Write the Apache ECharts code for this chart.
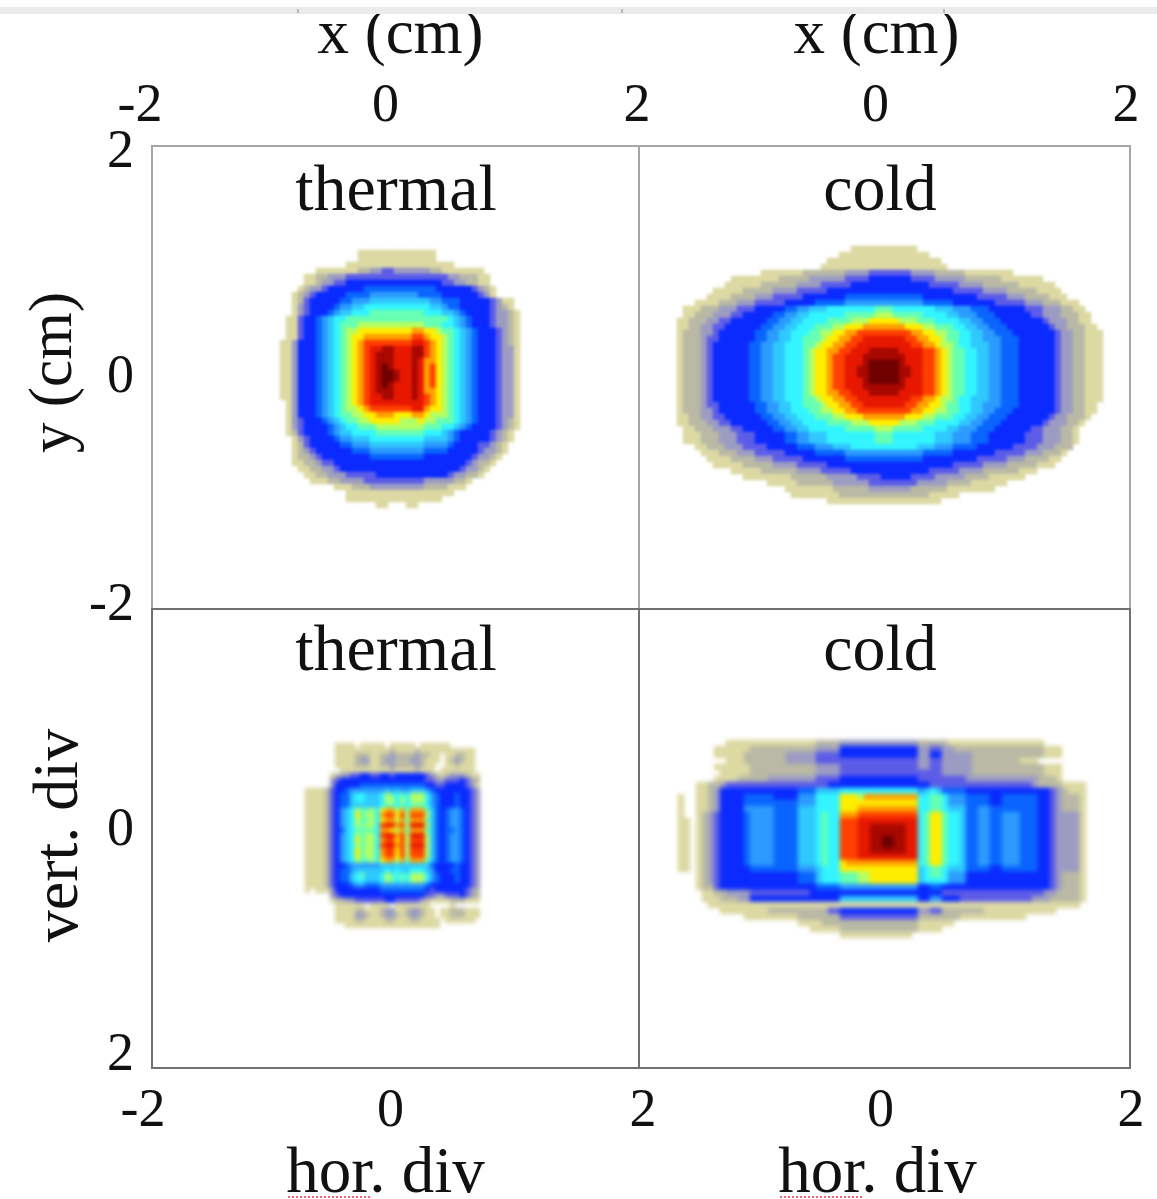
<!DOCTYPE html>
<html><head><meta charset="utf-8">
<style>html,body{margin:0;padding:0;background:#fff}#c{width:1157px;height:1199px}
canvas[data-zr-dom-id="zr_0"]{filter:blur(.5px)}
canvas[data-zr-dom-id="zr_1"]{filter:blur(1.4px)}
canvas[data-zr-dom-id="zr_2"]{filter:blur(2.2px)}
</style>
<script src="https://cdn.jsdelivr.net/npm/echarts@6/dist/echarts.min.js"></script>
</head><body><div id="c"></div>
<script>
// Colour levels: 1 = faintest ... h = peak
const levelColors = ['#dcd9a3','#b9b9a5','#9c9cc3','#5c5ce8','#0a2aff','#0a64ff','#2c9bff','#2fc8ff','#33f5ff','#66ffb3','#b3ff66','#ffee00','#ffa000','#ff4000','#e81800','#a80800','#6e0000'];
const tickValues = [-2, 0, 2];
const panelTitles = ['thermal', 'cold', 'thermal', 'cold'];

// top-left, runs of level + count
const thermalTop = [
".13 113 .14",
".13 113 .14",
".11 118 .11",
".6 17 22 32 42 36 22 17 .6",
".4 12 22 33 417 32 23 12 .5",
".4 12 21 32 42 516 42 32 22 12 .5",
".3 11 21 32 41 56 612 56 41 31 21 11 .4",
".2 11 21 31 41 55 64 78 64 56 41 31 11 .4",
".2 11 21 41 55 62 73 810 72 63 55 41 31 12 .1",
".2 11 31 41 54 61 72 82 911 82 71 62 55 41 31 21 11 .1",
".2 11 31 41 53 61 71 82 93 a9 93 82 71 61 54 41 32 21 11",
".1 12 41 52 61 71 81 92 a17 91 81 71 61 53 41 32 21 11",
".1 12 41 52 61 71 81 91 a3 b11 a3 92 81 71 61 53 41 32 21 11",
".1 12 41 52 61 71 81 91 a1 b2 c9 d2 c2 b1 a2 91 81 71 61 53 41 31 21 11",
".1 12 41 52 61 71 81 91 a1 b1 c2 d8 e2 d1 c2 b1 a1 91 81 71 61 53 41 31 21 11",
"12 31 53 61 71 81 91 a1 b1 c1 d1 e8 f2 e1 d1 c1 b1 a1 91 81 71 61 53 41 31 21 11",
"12 31 53 61 71 81 91 a1 b1 c1 d1 e1 f2 g2 f3 g2 e1 d1 c1 b1 a1 91 81 71 61 53 41 32 11",
"12 31 53 61 71 81 91 a1 b1 c1 d1 e1 f1 g3 f3 g2 e1 d1 c1 b1 a1 91 81 71 61 53 41 32 11",
"12 31 53 61 71 81 91 a1 b1 c1 d1 e1 f1 g3 f3 g1 f1 d1 d1 c1 b1 a1 91 81 71 61 53 41 32 11",
"12 31 53 61 71 81 91 a1 b1 c1 d1 e1 f1 g1 h1 g1 f3 g1 f1 d1 e1 c1 b1 a1 91 81 71 61 53 41 32 11",
"12 31 53 61 71 81 91 a1 b1 c1 d1 e1 f1 g1 h2 g1 f2 g1 f1 d1 e1 c1 b1 a1 91 81 71 61 53 41 32 11",
"12 31 53 61 71 81 91 a1 b1 c1 d1 e1 f1 g1 h2 g1 f2 g1 f1 d1 e1 c1 b1 a1 91 81 71 61 53 41 32 11",
"12 31 53 61 71 81 91 a1 b1 c1 d1 e1 f1 g1 h1 g1 f3 g1 f1 d1 e1 c1 b1 a1 91 81 71 61 53 41 32 11",
"12 31 53 61 71 81 91 a1 b1 c1 d1 e1 f1 g3 f3 g1 f1 d1 d1 c1 b1 a1 91 81 71 61 53 41 32 11",
"12 31 53 61 71 81 91 a1 b1 c1 d1 e1 f2 g2 f3 g1 f1 e1 d1 c1 b1 a1 91 81 71 61 53 41 32 11",
".1 11 31 53 61 71 81 91 a1 b1 c1 d1 e1 f9 e1 d1 c1 b1 a1 91 81 71 61 53 41 32 11",
".1 11 31 53 61 71 81 91 a1 b2 c1 d1 e7 f2 d1 c2 b1 a1 91 81 71 61 53 41 32 11",
".1 11 31 53 61 71 81 91 a2 b2 c2 d3 c3 d2 c1 b3 a1 91 81 71 61 53 41 32 11",
".1 11 31 41 53 61 71 81 91 a2 b2 c5 b3 c1 b2 a3 91 81 71 61 53 41 31 21 11",
".1 11 31 41 54 61 71 81 92 a3 b8 a3 92 81 71 61 54 41 31 21 11",
".1 11 21 41 54 61 71 82 94 a8 93 81 71 61 55 41 31 21 11 .1",
".2 11 31 41 54 61 72 83 99 84 71 61 55 41 31 21 11 .1",
".2 11 21 41 55 62 73 89 74 61 54 42 31 21 11 .2",
".2 11 21 31 41 54 52 63 79 64 55 41 32 21 11 .2",
".2 11 22 31 41 53 55 69 54 54 41 32 21 11 .3",
".2 12 22 31 42 519 53 41 31 22 11 .4",
".3 12 22 32 41 518 52 41 32 21 11 .5",
".4 12 22 33 45 512 41 32 22 11 .6",
".5 13 22 34 410 34 31 22 11 .8",
".9 13 23 39 24 13 .9",
".11 118 .11",
".11 116 .13",
".16 12 .3 12 .17"
];

// top-right, runs of level + count
const coldTop = [
".29 111 .31",
".27 115 .29",
".25 119 .27",
".24 121 .26",
".14 17 27 34 47 34 25 18 .15",
".9 18 25 36 44 57 44 35 26 17 .10",
".8 16 26 34 45 513 45 34 26 16 .8",
".6 15 25 34 45 521 45 34 25 14 .7",
".5 14 24 33 45 57 613 59 45 33 24 13 .6",
".3 14 23 33 45 55 65 713 65 57 45 33 23 13 .4",
".1 13 23 33 43 55 62 72 83 98 a3 97 83 73 63 56 43 33 22 12 .3",
".1 12 23 33 42 55 62 72 82 96 a5 b3 a5 94 82 73 63 56 42 33 23 12 .2",
"12 23 32 42 56 62 72 82 94 a4 b3 c5 b3 a3 94 82 72 63 57 41 33 22 12 .2",
"12 22 32 42 56 62 72 82 93 a3 b2 c3 d7 c3 b2 a3 92 82 72 63 57 41 32 23 12 .1",
"11 23 32 41 56 62 72 82 93 a2 b2 c2 d2 e9 d2 c2 b2 a2 92 82 72 63 57 41 32 22 13",
"11 23 31 42 56 62 72 82 92 a3 b1 c2 d2 e2 f7 e2 d2 c2 b1 a2 92 82 73 63 56 41 32 22 13",
"11 23 31 41 56 62 72 82 93 a2 b1 c2 d2 e2 f9 e2 d2 c1 b2 a1 92 83 72 63 56 41 32 22 13",
"11 23 31 41 56 62 72 82 93 a1 b1 c2 d2 e2 f3 g5 f4 e2 d1 c1 b1 a2 92 82 72 63 56 41 32 22 13",
"11 23 31 41 56 62 72 82 93 a1 b1 c2 d1 e2 f3 g7 f3 e2 d1 c1 b1 a2 92 82 72 63 56 41 32 22 13",
"11 23 31 41 56 62 72 82 93 a1 b1 c2 d1 e2 f3 g1 h5 g1 f3 e2 d1 c1 b1 a2 92 82 72 63 56 41 32 22 13",
"11 23 31 41 56 62 72 82 93 a1 b1 c2 d1 e2 f2 g2 h5 g2 f2 e2 d1 c1 b1 a2 92 82 72 63 56 41 32 22 13",
"11 23 31 41 56 62 72 82 93 a1 b1 c2 d1 e2 f2 g2 h5 g2 f2 e2 d1 c1 b1 a2 92 82 72 63 56 41 32 22 13",
"11 23 31 41 56 62 72 82 93 a1 b1 c2 d1 e2 f3 g1 h5 g1 f3 e2 d1 c1 b1 a2 92 82 72 63 56 41 32 22 13",
"11 23 31 41 56 62 72 82 93 a1 b1 c2 d1 e2 f3 g7 f3 e2 d1 c1 b1 a2 92 82 72 63 56 41 32 22 13",
"11 23 31 41 56 62 72 82 93 a1 b1 c2 d2 e2 f3 g5 f4 e2 d1 c1 b1 a2 92 82 72 63 56 41 32 22 13",
"11 23 31 41 56 62 72 82 93 a2 b1 c2 d2 e2 f9 e2 d2 c1 b2 a1 92 83 72 63 56 41 32 22 13",
"11 23 31 42 56 62 72 82 92 a3 b1 c2 d2 e2 f7 e2 d2 c2 b1 a2 92 82 73 63 56 41 32 22 12 .1",
"11 23 32 41 56 62 72 82 93 a2 b2 c2 d2 e9 d2 c2 b2 a2 92 82 72 63 57 41 32 22 12 .1",
"12 22 32 42 56 62 72 82 93 a3 b2 c3 d7 c3 b2 a3 92 82 72 63 57 41 32 23 11 .2",
"12 23 32 42 56 62 72 82 94 a4 b3 c5 b3 a3 94 82 72 63 57 41 33 22 11 .3",
".1 12 23 33 42 55 62 72 82 96 a5 b3 a5 94 82 73 63 56 42 33 22 11 .4",
".1 13 23 33 43 55 62 72 83 98 a3 97 83 73 63 56 43 33 22 11 .4",
".1 13 23 33 43 55 62 72 83 98 a3 97 83 73 63 56 43 33 22 11 .4",
".3 12 23 33 44 55 63 73 83 911 83 73 64 56 44 33 23 .5",
".4 13 23 33 45 55 65 713 65 57 45 33 23 11 .6",
".5 14 24 33 45 57 613 59 45 33 24 12 .7",
".6 15 25 34 45 521 45 34 25 13 .8",
".9 15 26 34 45 513 45 34 26 13 .11",
".11 18 26 35 44 55 44 35 24 16 .13",
".15 15 26 36 48 35 24 16 .16",
".18 18 26 37 26 18 .18",
".19 18 215 15 .24",
".25 119 .27"
];

// bottom-left, one character per cell, | only groups columns
const thermalBottom = [
"......1111|.1111|1.111|11.11|1111......",
"......1111|11111|11211|11211|111111111.",
"......1111|22211|22322|22322|11.112211.",
"......1111|23311|23322|23321|11.123211.",
"......1111|22211|22322|22321|1..112111.",
".......111|11111|11211|11211|1.1111111.",
".....12334|45544|55455|55554|3212333211",
".....34555|55555|55555|55554|4334445432",
".....35555|56666|66666|66665|5445555431",
"1111245567|77777|78787|78887|6555555543",
"1111245668|99888|9ba9a|9bbb9|7655565543",
"1111245668|99888|9bb9b|9bbb9|7655565543",
"1111245668|88888|9aa9a|9aaa9|7655565543",
"1111245789|baab9|cddbd|addda|8656776543",
"1111245789|cabb9|deece|beeeb|8656776543",
"1111245789|baab9|cddbd|addda|8656776543",
"1111245789|babb9|effde|bfffb|8656776543",
"1111245689|aaaa9|ddcbd|addda|8656676543",
"1111245789|babb9|effde|bfffb|8656776543",
"1111245789|cabb9|deece|beeeb|8656776543",
"1111245789|babb9|effde|bfffb|8656776543",
"1111245789|cabb9|deece|beeeb|8656776543",
"1111245789|cabb9|deece|beeeb|8656776543",
"1111245789|baab9|cddbd|addda|8656776543",
"1111245567|77777|88888|88888|6555565543",
"1111245667|88888|89898|89998|7555665543",
"1111245668|9a888|9ba9a|9bbb9|7655565543",
"1111245668|99888|9ba9a|9bbb9|7655565543",
"1111245556|77666|77777|77776|5555555543",
"1.11135555|55555|66666|66665|4555555432",
".....34555|55555|55555|55554|4334445432",
".....12233|44444|45544|44432|1111222111",
"......1111|11.11|11.11|11111|....1.....",
"......1111|22111|23311|23321|1.11222111",
"......1111|33211|23321|23321|1.11222111",
"......1111|22111|12211|12211|11.111111.",
"........11|11111|11111|11111|11........"
];

// bottom-right, runs of level + count
const coldBottom = [
".8 115 24 313 25 116 .7",
".6 16 211 34 513 32 42 32 215 13 .4",
".6 15 27 35 44 513 32 52 32 33 212 13 .4",
".8 13 27 35 44 413 32 42 35 28 13 .8",
".6 16 211 34 413 32 42 35 212 13 .4",
".7 15 211 34 417 35 212 13 .4",
".6 14 25 38 44 513 48 312 23 11 .4",
".3 12 22 31 417 517 417 31 24 14",
".3 12 21 31 54 55 54 63 84 913 71 81 91 81 64 514 41 31 21 13",
"11 .2 12 21 31 54 65 54 73 94 c3 b1 d9 92 a2 91 73 62 62 52 66 52 41 31 23 11",
"11 .2 12 21 31 54 65 64 73 94 c13 92 a2 91 73 62 62 52 66 52 41 31 23 11",
"11 .2 12 21 31 54 75 64 83 94 c3 d10 92 a2 91 83 62 72 62 66 52 41 31 23 11",
"11 .2 11 21 31 41 54 61 74 64 83 91 a1 92 d3 e10 91 a1 c2 a1 92 81 62 72 62 73 63 52 41 31 33 11",
"12 .1 11 21 31 41 54 61 74 64 83 91 a1 92 e3 f10 91 a1 c2 a1 92 81 62 72 62 73 63 52 41 31 33 11",
"12 .1 11 21 31 41 54 61 74 64 83 91 a1 92 e3 f2 g6 f2 91 a1 c2 a1 92 81 62 72 62 73 63 52 41 31 33 11",
"12 .1 11 21 31 41 54 61 74 64 83 91 a1 92 e3 f2 g6 f2 91 a1 c2 a1 92 81 62 72 62 73 63 52 41 31 33 11",
"12 .1 11 21 31 41 54 61 74 64 83 91 a1 92 e3 f2 g2 h2 g2 f2 91 a1 c2 a1 92 81 62 72 62 73 63 52 41 31 33 11",
"12 .1 11 21 31 41 54 61 74 64 83 91 a1 92 e3 f2 g2 h2 g2 f2 91 a1 c2 a1 92 81 62 72 62 73 63 52 41 31 33 11",
"12 .1 11 21 31 41 54 61 74 64 83 91 a1 92 e3 f2 g6 f2 91 a1 c2 a1 92 81 62 72 62 73 63 52 41 31 33 11",
"12 .1 11 21 31 41 54 61 74 64 83 91 a1 92 e3 f10 91 a1 c2 a1 92 81 62 72 62 73 63 52 41 31 33 11",
"12 .1 11 21 31 41 54 61 74 64 83 91 a1 92 c1 d12 91 a1 c2 a1 92 81 62 72 62 73 63 52 41 31 33 11",
"12 .1 11 21 31 41 55 64 64 73 81 91 92 c13 81 91 a2 91 83 62 62 52 66 52 41 31 33 11",
".3 11 21 31 41 55 54 54 63 81 91 92 a3 b2 c8 81 91 a2 91 73 56 56 52 41 31 23 11",
".3 11 21 31 41 513 63 81 91 92 a3 b2 c8 81 91 92 91 73 514 41 31 23 11",
".3 11 22 41 516 64 713 52 62 518 41 31 23 11",
".4 12 22 34 410 522 417 32 24 11",
".4 13 23 32 515 813 52 72 53 412 33 25 11",
".5 162 .1",
".7 18 210 42 513 32 42 27 112 .5",
".11 19 27 413 27 111 .10",
".20 14 216 16 .22",
".22 15 213 14 .24",
".27 112 .29"
];

const panelRows = [thermalTop, coldTop, thermalBottom, coldBottom];

// layout, in page pixels
const frames = [[152,146,487,463],[639,146,491,463],[152,609,487,459],[639,609,491,459]];
const heatOrigins = [[280,250,6],[677,246,6],[305,743,5],[678,740,6]];
const heatLayers = [1,1,2,2];
const frameColors = ['#a6a6a6','#a6a6a6','#707070','#707070'];
const titleCenters = [[391,155],[875,155],[391,615],[875,615]];
const xShifts = [[-12,-10,-2],[0,-9,-4],[-9,-5,4],[0,-4,1]];
const yShifts = [[-3.5,0,6.5],null,[0,-8,-12.5],null];
const tickSize = 54, xNameSize = 63, botNameSize = 65, titleSize = 66;
const serif = '"Liberation Serif", "Times New Roman", serif';

function expandRow(s){
  if (s.indexOf(' ') < 0) return s.replace(/\|/g,'').split('');
  const out = [];
  s.split(' ').forEach(t => { const n = +t.slice(1); for (let i = 0; i < n; i++) out.push(t[0]); });
  return out;
}
const grids = [], xAxes = [], yAxes = [], series = [], titles = [];
function richFor(shifts, vertical){
  const r = {};
  shifts.forEach((d,i) => {
    const a = Math.abs(d) * 2;
    r['t'+i] = {fontFamily: serif, fontSize: tickSize, color:'#111',
      padding: vertical ? (d > 0 ? [a,0,0,0] : [0,0,a,0]) : (d > 0 ? [0,0,0,a] : [0,a,0,0])};
  });
  return r;
}
function labelFmt(hideMinus){
  return v => { const i = tickValues.indexOf(v); if (i < 0 || (hideMinus && v === -2)) return ''; return '{t'+i+'|'+v+'}'; };
}
const frameX = [
  {position:'top', name:'x (cm)', hide:false},
  {position:'top', name:'x (cm)', hide:true},
  {position:'bottom', name:'hor. div', hide:false},
  {position:'bottom', name:'hor. div', hide:true}
];
frames.forEach((f,i) => {
  grids.push({left:f[0], top:f[1], width:f[2], height:f[3], outerBoundsMode:'none', show:true, borderColor:frameColors[i], borderWidth:2, backgroundColor:'transparent'});
  xAxes.push({type:'value', gridIndex:i, min:-2, max:2, interval:2, position:frameX[i].position,
    name:frameX[i].name, nameLocation:'middle', nameGap: i<2 ? 78 : 74,
    nameTextStyle:{fontFamily:serif,fontSize:i<2?xNameSize:botNameSize,color:'#111', padding: i===0?[0,0,0,10]: i===1?[0,16,0,0]: i===2?[0,20,0,0]:[0,14,0,0]},
    axisLine:{show:false},axisTick:{show:false},splitLine:{show:false},
    axisLabel:{margin: i<2 ? 12 : 17, formatter:labelFmt(frameX[i].hide), rich:richFor(xShifts[i],false)}});
  if (i===0 || i===2) {
    yAxes.push({type:'value', gridIndex:i, min:-2, max:2, interval:2, inverse:i===2,
      name:i===0?'y (cm)':'vert. div', nameLocation:'middle', nameGap:i===0?57:60,
      nameTextStyle:{fontFamily:serif,fontSize:i===0?61:64,color:'#111', padding:i===0?[0,0,0,10]:[0,0,0,6]},
      axisLine:{show:false},axisTick:{show:false},splitLine:{show:false},
      axisLabel:{margin:18, formatter:labelFmt(i===2), rich:richFor(yShifts[i],true)}});
  } else {
    yAxes.push({type:'value', gridIndex:i, min:-2, max:2, interval:2, show:false});
  }
  titles.push({text:panelTitles[i], left:titleCenters[i][0], top:titleCenters[i][1], textAlign:'center',
    textStyle:{fontFamily:serif,fontSize:titleSize,fontWeight:'normal',color:'#111'}});
});
panelRows.forEach((rows,i) => {
  const cells = rows.map(expandRow);
  const nCols = Math.max(...cells.map(r => r.length));
  const o = heatOrigins[i];
  const gi = grids.length;
  grids.push({left:o[0], top:o[1], width:nCols*o[2], height:rows.length*o[2], outerBoundsMode:'none'});
  xAxes.push({type:'category', gridIndex:gi, show:false, data:Array.from({length:nCols},(_,k)=>k)});
  yAxes.push({type:'category', gridIndex:gi, show:false, inverse:true, data:Array.from({length:rows.length},(_,k)=>k)});
  const data = [];
  cells.forEach((r,y) => r.forEach((c,x) => { if (c !== '.') data.push([x,y,parseInt(c,36)]); }));
  series.push({type:'heatmap', zlevel:heatLayers[i], xAxisIndex:gi, yAxisIndex:gi, data, progressive:0, animation:false, silent:true, emphasis:{disabled:true}});
});
const chart = echarts.init(document.getElementById('c'), null, {renderer:'canvas'});
chart.setOption({
  backgroundColor:'#ffffff', animation:false, tooltip:{show:false},
  title:titles, grid:grids, xAxis:xAxes, yAxis:yAxes, series,
  visualMap:{type:'continuous', show:false, min:1, max:17, dimension:2, inRange:{color:levelColors}},
  graphic:[
    {type:'rect', z:99, shape:{x:0,y:0,width:1157,height:7}, style:{fill:'#ffffff'}},
    {type:'rect', z:100, shape:{x:0,y:7,width:1157,height:7}, style:{fill:'#ebebeb'}},
    {type:'line', z:101, shape:{x1:298,y1:9,x2:298,y2:13}, style:{stroke:'#888',lineWidth:1}},
    {type:'line', z:101, shape:{x1:622,y1:9,x2:622,y2:13}, style:{stroke:'#888',lineWidth:1}},
    {type:'line', z:101, shape:{x1:944,y1:9,x2:944,y2:13}, style:{stroke:'#888',lineWidth:1}},
    {type:'line', z:101, shape:{x1:288,y1:1197,x2:372,y2:1197}, style:{stroke:'#ee6677',lineWidth:2,lineDash:[2,2]}},
    {type:'line', z:101, shape:{x1:780,y1:1197,x2:862,y2:1197}, style:{stroke:'#ee6677',lineWidth:2,lineDash:[2,2]}}
  ]
});
</script></body></html>
